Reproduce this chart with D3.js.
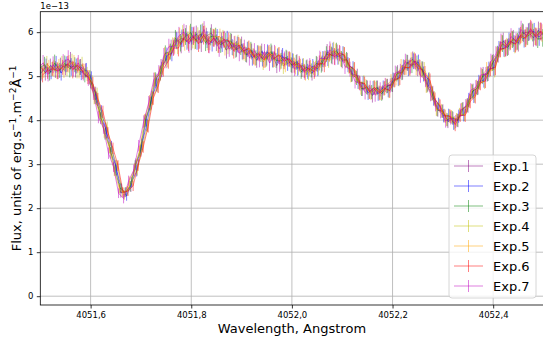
<!DOCTYPE html>
<html>
<head>
<meta charset="utf-8">
<script src="https://cdn.jsdelivr.net/npm/d3@7"></script>
<style>
  body { margin: 0; background: #fff; }
  svg { font-family: "DejaVu Sans", sans-serif; }
</style>
</head>
<body>
<div id="chart"></div>
<script>
// wavelength grid, Angstrom
const wavelength = [
  4051.50, 4051.51, 4051.52, 4051.53, 4051.54, 4051.55, 4051.56, 4051.57, 4051.58, 4051.59,
  4051.60, 4051.61, 4051.62, 4051.63, 4051.64, 4051.65, 4051.66, 4051.67, 4051.68, 4051.69,
  4051.70, 4051.71, 4051.72, 4051.73, 4051.74, 4051.75, 4051.76, 4051.77, 4051.78, 4051.79,
  4051.80, 4051.81, 4051.82, 4051.83, 4051.84, 4051.85, 4051.86, 4051.87, 4051.88, 4051.89,
  4051.90, 4051.91, 4051.92, 4051.93, 4051.94, 4051.95, 4051.96, 4051.97, 4051.98, 4051.99,
  4052.00, 4052.01, 4052.02, 4052.03, 4052.04, 4052.05, 4052.06, 4052.07, 4052.08, 4052.09,
  4052.10, 4052.11, 4052.12, 4052.13, 4052.14, 4052.15, 4052.16, 4052.17, 4052.18, 4052.19,
  4052.20, 4052.21, 4052.22, 4052.23, 4052.24, 4052.25, 4052.26, 4052.27, 4052.28, 4052.29,
  4052.30, 4052.31, 4052.32, 4052.33, 4052.34, 4052.35, 4052.36, 4052.37, 4052.38, 4052.39,
  4052.40, 4052.41, 4052.42, 4052.43, 4052.44, 4052.45, 4052.46, 4052.47, 4052.48, 4052.49,
  4052.50
];

// wavelength correction of each exposure, Angstrom
const waveOffset = [0.0000, 0.0015, -0.0015, 0.0030, -0.0030, 0.0045, -0.0045];

// flux, units of 1e-13
const exp1 = [
  5.21, 5.08, 5.24, 5.15, 5.25, 5.20, 5.35, 5.14, 5.21, 5.13,
  4.88, 4.61, 4.05, 3.81, 3.26, 2.97, 2.35, 2.37, 2.49, 3.00,
  3.30, 4.01, 4.39, 4.90, 5.22, 5.36, 5.65, 5.82, 5.72, 5.97,
  5.79, 5.96, 5.76, 5.91, 5.98, 5.76, 5.81, 5.59, 5.78, 5.62,
  5.72, 5.48, 5.56, 5.36, 5.56, 5.41, 5.52, 5.24, 5.42, 5.41,
  5.24, 5.33, 5.14, 5.21, 5.06, 5.27, 5.29, 5.55, 5.46, 5.54,
  5.36, 5.36, 5.05, 5.01, 4.71, 4.74, 4.56, 4.74, 4.63, 4.78,
  4.80, 5.08, 5.09, 5.30, 5.38, 5.18, 5.16, 4.81, 4.62, 4.23,
  4.21, 3.97, 4.04, 3.99, 4.26, 4.33, 4.67, 4.74, 5.04, 5.06,
  5.32, 5.49, 5.80, 5.67, 5.86, 5.75, 5.98, 6.00, 5.87, 6.04,
  5.92
];
const exp2 = [
  5.07, 5.22, 5.09, 5.27, 5.07, 5.27, 5.21, 5.23, 5.09, 5.14,
  4.95, 4.50, 4.20, 3.72, 3.40, 2.87, 2.45, 2.28, 2.59, 2.85,
  3.45, 3.89, 4.52, 4.81, 5.15, 5.47, 5.52, 5.80, 5.86, 5.79,
  5.92, 5.79, 5.97, 5.83, 5.76, 5.88, 5.73, 5.84, 5.66, 5.72,
  5.56, 5.61, 5.42, 5.53, 5.40, 5.55, 5.38, 5.46, 5.46, 5.29,
  5.35, 5.18, 5.24, 5.11, 5.23, 5.17, 5.39, 5.41, 5.57, 5.44,
  5.50, 5.26, 5.17, 4.87, 4.84, 4.62, 4.73, 4.60, 4.74, 4.68,
  4.92, 4.95, 5.21, 5.18, 5.34, 5.31, 5.05, 4.92, 4.49, 4.36,
  4.10, 4.11, 3.93, 4.09, 4.12, 4.46, 4.55, 4.87, 4.91, 5.16,
  5.19, 5.62, 5.63, 5.80, 5.74, 5.91, 5.85, 6.01, 6.01, 5.89,
  6.02
];
const exp3 = [
  5.18, 5.26, 5.06, 5.30, 5.13, 5.29, 5.17, 5.26, 5.20, 5.02,
  4.97, 4.52, 4.17, 3.69, 3.37, 2.86, 2.46, 2.36, 2.50, 2.96,
  3.32, 3.98, 4.37, 4.93, 5.07, 5.52, 5.56, 5.86, 5.76, 5.90,
  5.99, 5.81, 5.96, 5.76, 5.90, 5.91, 5.71, 5.79, 5.80, 5.60,
  5.66, 5.49, 5.60, 5.42, 5.50, 5.38, 5.56, 5.36, 5.35, 5.43,
  5.26, 5.31, 5.10, 5.19, 5.13, 5.29, 5.26, 5.50, 5.48, 5.58,
  5.39, 5.38, 5.04, 4.96, 4.71, 4.75, 4.64, 4.74, 4.60, 4.77,
  4.81, 5.05, 5.08, 5.31, 5.25, 5.29, 5.17, 4.79, 4.60, 4.24,
  4.20, 4.01, 4.06, 4.00, 4.25, 4.34, 4.65, 4.73, 4.99, 5.05,
  5.30, 5.51, 5.74, 5.65, 5.83, 5.79, 6.00, 5.91, 5.99, 5.84,
  5.87
];
const exp4 = [
  5.10, 5.28, 5.16, 5.13, 5.29, 5.18, 5.31, 5.12, 5.26, 5.05,
  4.86, 4.59, 4.08, 3.84, 3.28, 2.96, 2.37, 2.39, 2.62, 2.87,
  3.41, 3.87, 4.49, 4.79, 5.20, 5.38, 5.70, 5.69, 5.96, 5.82,
  5.83, 5.92, 6.00, 5.78, 5.88, 5.72, 5.87, 5.69, 5.64, 5.76,
  5.54, 5.62, 5.46, 5.54, 5.32, 5.51, 5.37, 5.48, 5.23, 5.38,
  5.34, 5.20, 5.25, 5.08, 5.19, 5.19, 5.38, 5.37, 5.59, 5.45,
  5.49, 5.23, 5.14, 4.86, 4.86, 4.65, 4.75, 4.63, 4.71, 4.66,
  4.90, 4.94, 5.19, 5.20, 5.37, 5.21, 5.15, 4.93, 4.50, 4.34,
  4.11, 4.10, 3.94, 4.13, 4.13, 4.44, 4.56, 4.85, 4.88, 5.14,
  5.15, 5.60, 5.62, 5.77, 5.71, 5.89, 5.87, 6.02, 5.91, 6.01,
  5.99
];
const exp5 = [
  5.22, 5.14, 5.21, 5.18, 5.22, 5.14, 5.28, 5.31, 5.13, 5.12,
  4.98, 4.51, 4.18, 3.73, 3.38, 2.85, 2.44, 2.30, 2.60, 2.89,
  3.29, 4.00, 4.42, 4.92, 5.05, 5.48, 5.54, 5.70, 5.90, 5.77,
  5.95, 5.80, 5.84, 5.96, 5.79, 5.89, 5.90, 5.66, 5.76, 5.74,
  5.68, 5.52, 5.57, 5.40, 5.52, 5.36, 5.48, 5.51, 5.33, 5.26,
  5.37, 5.21, 5.23, 5.07, 5.21, 5.18, 5.37, 5.39, 5.55, 5.56,
  5.40, 5.35, 5.03, 4.98, 4.74, 4.77, 4.62, 4.71, 4.62, 4.79,
  4.89, 4.96, 5.22, 5.21, 5.36, 5.20, 5.14, 4.78, 4.61, 4.25,
  4.22, 4.02, 4.08, 4.01, 4.24, 4.31, 4.66, 4.76, 5.01, 5.15,
  5.29, 5.48, 5.75, 5.68, 5.84, 5.77, 5.96, 5.90, 6.02, 5.90,
  5.98
];
const exp6 = [
  5.03, 5.12, 5.17, 5.12, 5.20, 5.28, 5.15, 5.25, 5.11, 4.98,
  4.82, 4.47, 4.19, 3.71, 3.36, 2.97, 2.36, 2.39, 2.51, 2.98,
  3.39, 3.86, 4.50, 4.78, 5.16, 5.35, 5.64, 5.64, 5.87, 5.76,
  5.91, 5.74, 5.93, 5.72, 5.87, 5.72, 5.83, 5.80, 5.58, 5.71,
  5.57, 5.64, 5.44, 5.51, 5.37, 5.54, 5.39, 5.49, 5.34, 5.40,
  5.25, 5.29, 5.12, 5.18, 5.10, 5.30, 5.27, 5.51, 5.45, 5.53,
  5.48, 5.24, 5.15, 4.85, 4.83, 4.64, 4.74, 4.61, 4.73, 4.67,
  4.91, 4.97, 5.20, 5.19, 5.34, 5.19, 5.06, 4.90, 4.47, 4.32,
  4.09, 4.09, 3.90, 4.11, 4.11, 4.43, 4.54, 4.84, 4.90, 5.17,
  5.20, 5.61, 5.64, 5.79, 5.73, 5.93, 5.86, 6.08, 5.90, 6.02,
  5.90
];
const exp7 = [
  5.19, 5.30, 5.04, 5.26, 5.11, 5.32, 5.39, 5.16, 5.30, 5.06,
  4.94, 4.61, 4.07, 3.82, 3.25, 2.94, 2.34, 2.22, 2.62, 2.86,
  3.42, 3.97, 4.40, 4.92, 5.08, 5.46, 5.67, 5.67, 5.92, 6.00,
  5.73, 5.94, 5.83, 6.06, 5.72, 5.86, 5.62, 5.84, 5.62, 5.73,
  5.52, 5.66, 5.42, 5.58, 5.38, 5.56, 5.30, 5.54, 5.28, 5.39,
  5.38, 5.17, 5.26, 5.09, 5.25, 5.15, 5.40, 5.40, 5.60, 5.43,
  5.51, 5.22, 5.16, 4.88, 4.83, 4.63, 4.74, 4.58, 4.70, 4.80,
  4.79, 5.07, 5.11, 5.33, 5.24, 5.33, 5.02, 4.91, 4.59, 4.35,
  4.19, 3.98, 4.05, 3.97, 4.23, 4.32, 4.68, 4.75, 5.03, 5.04,
  5.33, 5.50, 5.78, 5.64, 5.90, 5.79, 6.06, 5.92, 6.05, 5.88,
  6.01
];

// flux uncertainty, units of 1e-13
const fluxErr = [
  0.17, 0.18, 0.16, 0.19, 0.17, 0.18, 0.20, 0.17, 0.18, 0.16,
  0.16, 0.15, 0.14, 0.13, 0.13, 0.12, 0.11, 0.11, 0.12, 0.13,
  0.13, 0.14, 0.15, 0.16, 0.17, 0.18, 0.18, 0.19, 0.20, 0.19,
  0.20, 0.19, 0.21, 0.19, 0.20, 0.19, 0.18, 0.19, 0.18, 0.18,
  0.18, 0.17, 0.18, 0.17, 0.18, 0.17, 0.18, 0.17, 0.18, 0.17,
  0.17, 0.17, 0.16, 0.17, 0.16, 0.17, 0.18, 0.18, 0.19, 0.18,
  0.18, 0.17, 0.17, 0.16, 0.16, 0.16, 0.16, 0.16, 0.16, 0.16,
  0.16, 0.17, 0.17, 0.18, 0.18, 0.18, 0.17, 0.16, 0.16, 0.15,
  0.15, 0.15, 0.15, 0.15, 0.15, 0.16, 0.16, 0.16, 0.17, 0.17,
  0.18, 0.18, 0.19, 0.19, 0.19, 0.19, 0.20, 0.20, 0.20, 0.20,
  0.20
];

const seriesNames = ['Exp.1', 'Exp.2', 'Exp.3', 'Exp.4', 'Exp.5', 'Exp.6', 'Exp.7'];
const seriesFlux = [exp1, exp2, exp3, exp4, exp5, exp6, exp7];
const seriesColors = ['#800080', '#0000ff', '#008000', '#bfbf00', '#ffa500', '#ff0000', '#bf00bf'];

const xTicks = [4051.6, 4051.8, 4052.0, 4052.2, 4052.4];
const yTicks = [0, 1, 2, 3, 4, 5, 6];

const width = 543;
const height = 346;
const mLeft = 40.3, mRight = 543.5, mTop = 11.7, mBottom = 305;

const svg = d3.select('#chart')
  .append('svg')
  .attr('width', width)
  .attr('height', height);

const x = d3.scaleLinear().domain([4051.5, 4052.5]).range([mLeft, mRight]);
const y = d3.scaleLinear().domain([-0.2, 6.465]).range([mBottom, mTop]);

svg.append('defs').append('clipPath').attr('id', 'plotClip')
  .append('rect')
  .attr('x', mLeft).attr('y', mTop)
  .attr('width', mRight - mLeft).attr('height', mBottom - mTop);

// grid
svg.append('g')
  .selectAll('line')
  .data(xTicks)
  .enter()
  .append('line')
  .attr('x1', d => x(d)).attr('x2', d => x(d))
  .attr('y1', mTop).attr('y2', mBottom)
  .attr('stroke', '#b0b0b0').attr('stroke-width', 0.8);

svg.append('g')
  .selectAll('line')
  .data(yTicks)
  .enter()
  .append('line')
  .attr('x1', mLeft).attr('x2', mRight)
  .attr('y1', d => y(d)).attr('y2', d => y(d))
  .attr('stroke', '#b0b0b0').attr('stroke-width', 0.8);

// data
const plot = svg.append('g').attr('clip-path', 'url(#plotClip)');

seriesFlux.forEach((flux, k) => {
  const wx = i => x(wavelength[i] + waveOffset[k]);
  const line = d3.line()
    .x((d, i) => wx(i))
    .y(d => y(d));
  const g = plot.append('g').attr('stroke', seriesColors[k]).attr('stroke-opacity', 0.5);
  g.append('path')
    .attr('d', line(flux))
    .attr('fill', 'none')
    .attr('stroke-width', 1);
  g.selectAll('line')
    .data(flux)
    .enter()
    .append('line')
    .attr('x1', (d, i) => wx(i))
    .attr('x2', (d, i) => wx(i))
    .attr('y1', (d, i) => y(d - fluxErr[i]))
    .attr('y2', (d, i) => y(d + fluxErr[i]))
    .attr('stroke-width', 1);
});

// axes
const xAxis = d3.axisBottom(x)
  .tickValues(xTicks)
  .tickSize(3.5)
  .tickPadding(3.5)
  .tickFormat(d => d3.format('.1f')(d).replace('.', ','));
const gx = svg.append('g').attr('transform', `translate(0,${mBottom})`).call(xAxis);

const yAxis = d3.axisLeft(y)
  .tickValues(yTicks)
  .tickSize(3.5)
  .tickPadding(3.5)
  .tickFormat(d3.format('d'));
const gy = svg.append('g').attr('transform', `translate(${mLeft},0)`).call(yAxis);

[gx, gy].forEach(g => {
  g.select('.domain').remove();
  g.selectAll('.tick line').attr('stroke', '#000').attr('stroke-width', 0.8);
  g.selectAll('.tick text').attr('fill', '#000').style('font-size', '8.5px')
    .style('font-family', '"DejaVu Sans", sans-serif');
});

// spines
svg.append('rect')
  .attr('x', mLeft).attr('y', mTop)
  .attr('width', mRight - mLeft).attr('height', mBottom - mTop)
  .attr('fill', 'none').attr('stroke', '#000').attr('stroke-width', 0.8);

// offset text
svg.append('text')
  .attr('x', mLeft).attr('y', 8.5)
  .style('font-size', '8.5px')
  .text('1e\u221213');

// axis labels
svg.append('text')
  .attr('x', (mLeft + mRight) / 2).attr('y', 333)
  .attr('text-anchor', 'middle')
  .style('font-size', '13px')
  .text('Wavelength, Angstrom');

const yl = svg.append('text')
  .attr('transform', `translate(21,${(mTop + mBottom) / 2}) rotate(-90)`)
  .attr('text-anchor', 'middle')
  .style('font-size', '13px');
yl.append('tspan').text('Flux, units of erg.s');
yl.append('tspan').attr('dy', -5).style('font-size', '9px').text('\u22121');
yl.append('tspan').attr('dy', 5).text('.m');
yl.append('tspan').attr('dy', -5).style('font-size', '9px').text('\u22122');
yl.append('tspan').attr('dy', 5).text('\u00c5');
yl.append('tspan').attr('dy', -5).style('font-size', '9px').text('\u22121');

// legend
const legend = svg.append('g');
legend.append('rect')
  .attr('x', 449).attr('y', 155)
  .attr('width', 87).attr('height', 143)
  .attr('rx', 3)
  .attr('fill', '#fff').attr('fill-opacity', 0.8)
  .attr('stroke', '#cccccc').attr('stroke-width', 0.8);

seriesNames.forEach((name, k) => {
  const cy = 166 + k * 20;
  const item = legend.append('g').attr('stroke', seriesColors[k]).attr('stroke-opacity', 0.5);
  item.append('line').attr('x1', 454).attr('x2', 483).attr('y1', cy).attr('y2', cy).attr('stroke-width', 1);
  item.append('line').attr('x1', 468.5).attr('x2', 468.5).attr('y1', cy - 6).attr('y2', cy + 6).attr('stroke-width', 1);
  legend.append('text')
    .attr('x', 493).attr('y', cy + 4.5)
    .style('font-size', '13px')
    .text(name);
});
</script>
</body>
</html>
